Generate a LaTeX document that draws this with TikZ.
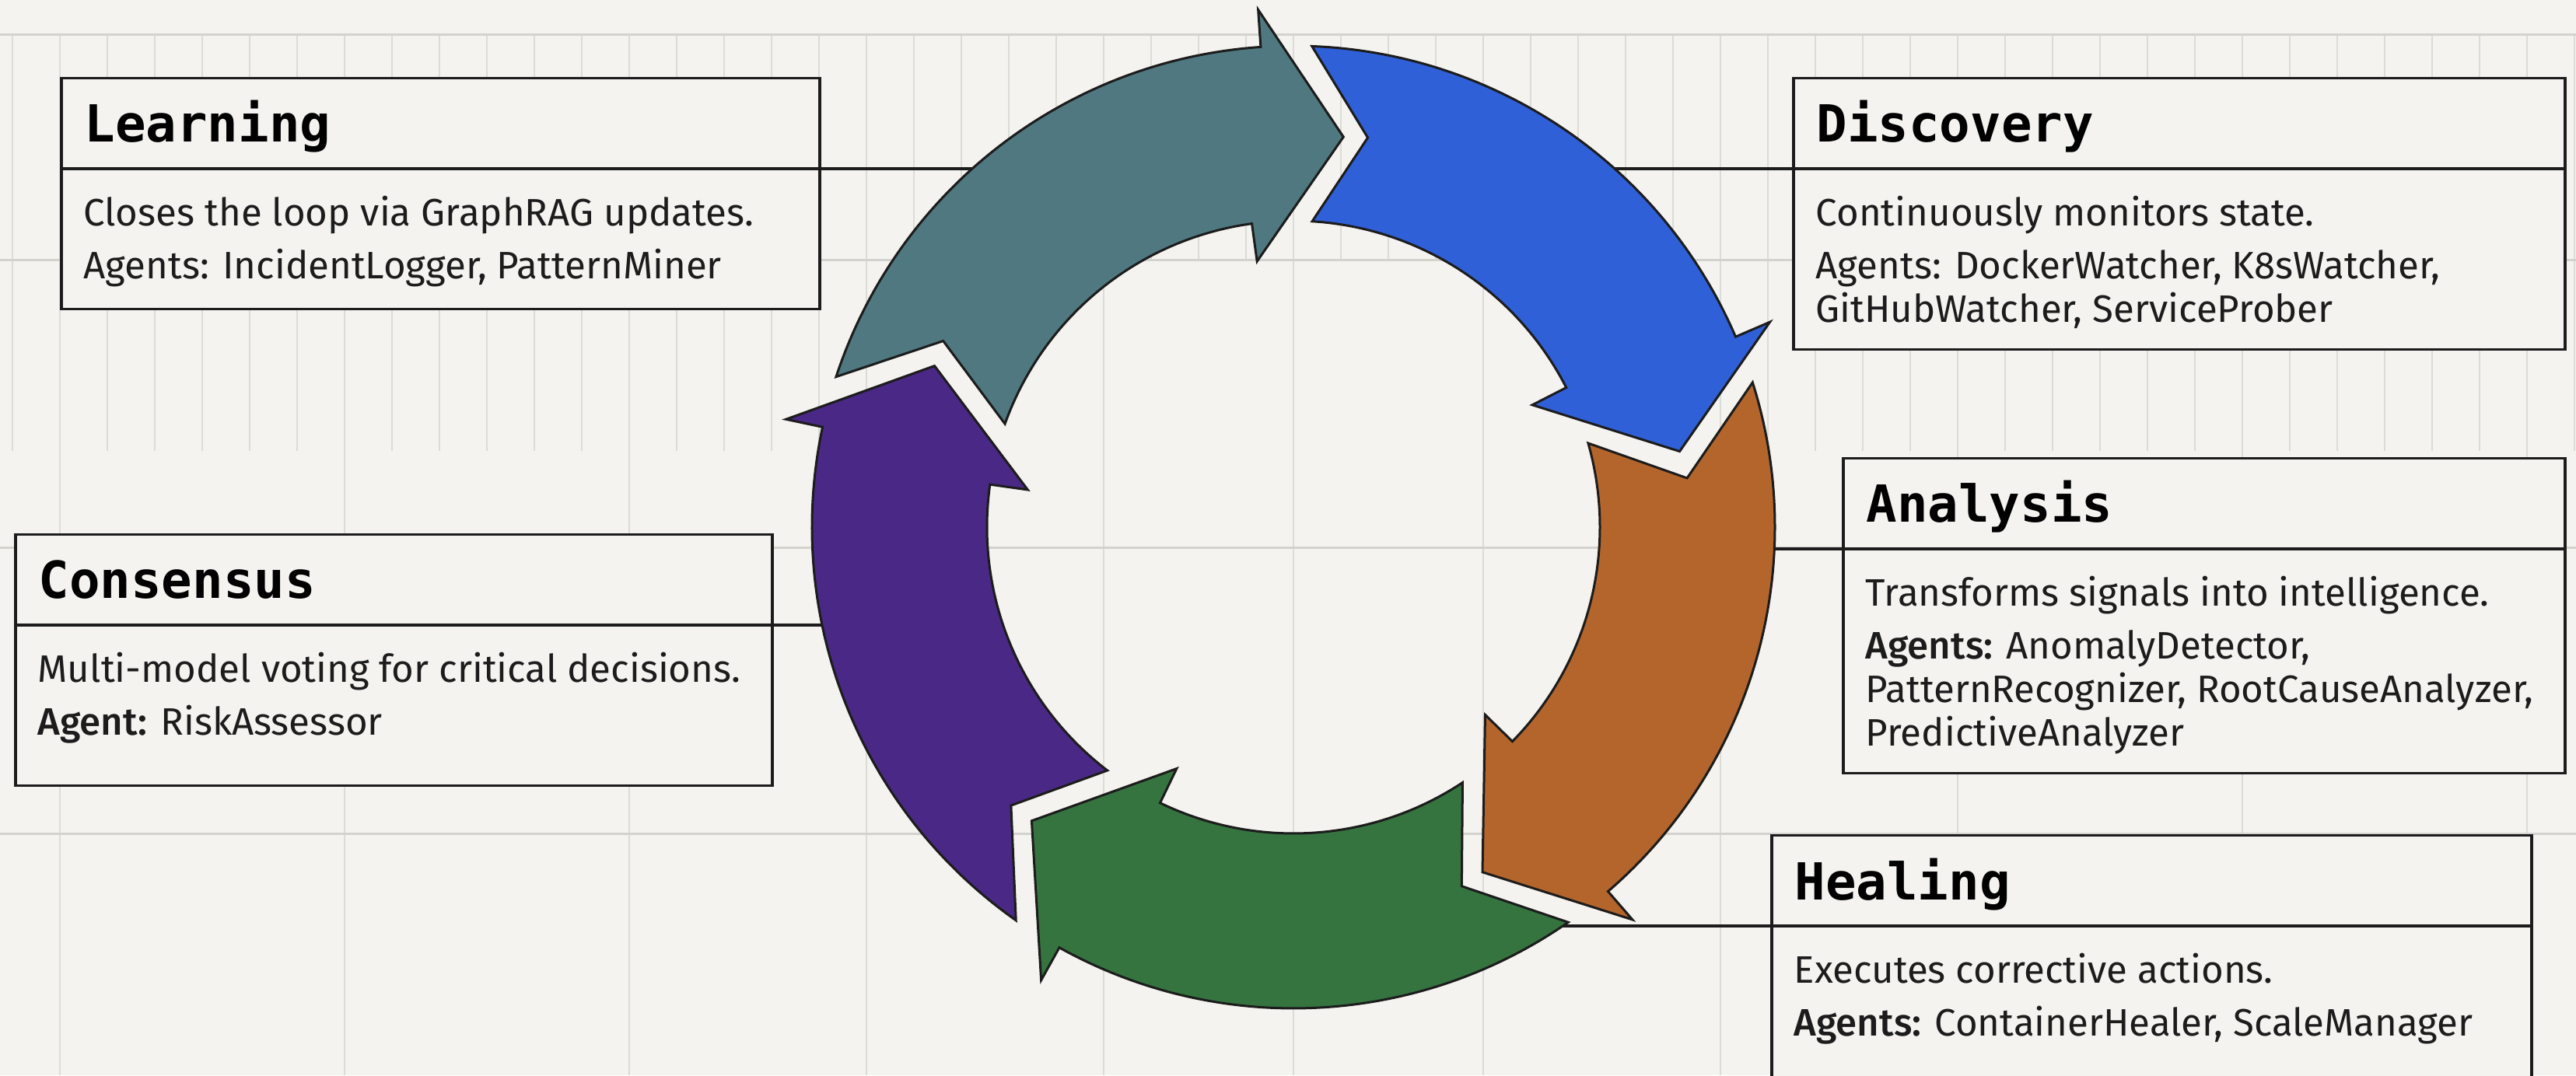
\documentclass[tikz,border=0pt]{standalone}
\usepackage{fontspec}
\usepackage{xcolor}
\usetikzlibrary{positioning,calc}
\setmainfont{Fira Sans}
\newfontfamily\headfont{DejaVu Sans Mono}
\newfontfamily\agentfont{Fira Sans Medium}

\definecolor{paper}{HTML}{F4F3EF}
\definecolor{gridfine}{HTML}{DCDCD7}
\definecolor{gridmajor}{HTML}{D3D3CE}
\definecolor{inkline}{HTML}{1C1C1C}
\definecolor{learncol}{HTML}{507880}
\definecolor{discocol}{HTML}{2F60D8}
\definecolor{analycol}{HTML}{B4652B}
\definecolor{healcol}{HTML}{35733F}
\definecolor{conscol}{HTML}{4A2886}

\begin{document}
\begin{tikzpicture}[x=1mm, y=1mm,
    panel/.style={draw=inkline, line width=0.35mm, fill=paper, anchor=north west, inner sep=0pt},
    rule/.style={draw=inkline, line width=0.35mm},
    headtext/.style={anchor=base west, inner sep=0pt, font=\headfont\bfseries\fontsize{18.7pt}{22pt}\selectfont},
    bodytext/.style={anchor=north west, inner sep=0pt, align=left, text=inkline, font=\fontsize{14pt}{15.93pt}\selectfont},
    stage/.style={draw=inkline, line width=0.3mm, line join=miter}]
    \useasboundingbox (0,0) rectangle (331.2,138.3);
    \clip (0,0) rectangle (331.2,138.3);
    \fill[paper] (0,0) rectangle (331.2,138.3);

    % Grid
    \foreach \k in {-27,...,27}
        \draw[gridfine, line width=0.2mm] ({166.3+6.1*\k},133.8) -- ({166.3+6.1*\k},104.8);
    \foreach \k in {-27,...,-10}
        \draw[gridfine, line width=0.2mm] ({166.3+6.1*\k},104.8) -- ({166.3+6.1*\k},80.3);
    \foreach \k in {10,...,27}
        \draw[gridfine, line width=0.2mm] ({166.3+6.1*\k},104.8) -- ({166.3+6.1*\k},80.3);
    \foreach \k in {-26,-20,-14,-9,-4,0,4,9,14,20,26}
        \draw[gridfine, line width=0.2mm] ({166.3+6.1*\k},104.8) -- ({166.3+6.1*\k},0);
    \foreach \y in {133.8,104.8,67.8,31.0}
        \draw[gridmajor, line width=0.3mm] (0,\y) -- (331.2,\y);

    % Ring anchors
    \coordinate (hub) at (166.3,70.5);
    \begin{scope}[shift={(hub)}]
        \coordinate (learnend) at (131.9:61.9);
        \coordinate (discoend) at (48.1:61.9);
        \coordinate (analyend) at (-2.6:61.9);
        \coordinate (consend) at (191.7:61.9);
        \coordinate (healend) at (-56:61.9);
    \end{scope}

    % Learning
    \node[panel, minimum width=97.5mm, minimum height=29.7mm] (learnbox) at (7.7,128.4) {};
    \draw[rule] ([yshift=-11.8mm]learnbox.north west) -- ([yshift=-11.8mm]learnbox.north east) coordinate (learnlink);
    \node[headtext] (learnhead) at ([xshift=3.1mm,yshift=-8.4mm]learnbox.north west) {Learning};
    \node[bodytext] (learnbody) at ([xshift=3mm,yshift=-14.1mm]learnbox.north west)
        {\rule{0pt}{5mm}Closes the loop via GraphRAG updates.\\[1.2mm]Agents: IncidentLogger, PatternMiner};
    \draw[rule] (learnlink) -- (learnlink -| learnend);

    % Discovery
    \node[panel, minimum width=99.2mm, minimum height=34.9mm] (discobox) at (230.4,128.4) {};
    \draw[rule] ([yshift=-11.8mm]discobox.north east) -- ([yshift=-11.8mm]discobox.north west) coordinate (discolink);
    \node[headtext] (discohead) at ([xshift=3.1mm,yshift=-8.4mm]discobox.north west) {Discovery};
    \node[bodytext] (discobody) at ([xshift=3mm,yshift=-14.1mm]discobox.north west)
        {\rule{0pt}{5mm}Continuously monitors state.\\[1.2mm]Agents: DockerWatcher, K8sWatcher,\\GitHubWatcher, ServiceProber};
    \draw[rule] (discolink) -- (discolink -| discoend);

    % Analysis
    \node[panel, minimum width=92.8mm, minimum height=40.5mm] (analybox) at (236.8,79.5) {};
    \draw[rule] ([yshift=-11.8mm]analybox.north east) -- ([yshift=-11.8mm]analybox.north west) coordinate (analylink);
    \node[headtext] (analyhead) at ([xshift=3.1mm,yshift=-8.4mm]analybox.north west) {Analysis};
    \node[bodytext] (analybody) at ([xshift=3mm,yshift=-14.1mm]analybox.north west)
        {\rule{0pt}{5mm}Transforms signals into intelligence.\\[1.2mm]{\agentfont Agents:} AnomalyDetector,\\PatternRecognizer, RootCauseAnalyzer,\\PredictiveAnalyzer};
    \draw[rule] (analylink) -- (analylink -| analyend);

    % Consensus
    \node[panel, minimum width=97.3mm, minimum height=32.3mm] (consbox) at (1.8,69.7) {};
    \draw[rule] ([yshift=-11.8mm]consbox.north west) -- ([yshift=-11.8mm]consbox.north east) coordinate (conslink);
    \node[headtext] (conshead) at ([xshift=3.1mm,yshift=-8.4mm]consbox.north west) {Consensus};
    \node[bodytext] (consbody) at ([xshift=3mm,yshift=-14.1mm]consbox.north west)
        {\rule{0pt}{5mm}Multi-model voting for critical decisions.\\[1.2mm]{\agentfont Agent:} RiskAssessor};
    \draw[rule] (conslink) -- (conslink -| consend);

    % Healing
    \node[panel, minimum width=97.7mm, minimum height=40mm] (healbox) at (227.6,31.0) {};
    \draw[rule] ([yshift=-11.8mm]healbox.north east) -- ([yshift=-11.8mm]healbox.north west) coordinate (heallink);
    \node[headtext] (healhead) at ([xshift=3.1mm,yshift=-8.4mm]healbox.north west) {Healing};
    \node[bodytext] (healbody) at ([xshift=3mm,yshift=-14.1mm]healbox.north west)
        {\rule{0pt}{5mm}Executes corrective actions.\\[1.2mm]{\agentfont Agents:} ContainerHealer, ScaleManager};
    \draw[rule] (heallink) -- (heallink -| healend);

    % Cycle arrows
    \begin{scope}[shift={(hub)}]
        \draw[stage, fill=discocol] (87.8:61.9) arc[start angle=87.8, end angle=23.3, radius=61.9]
            -- (23.3:66.7) -- (11.1:50.6) -- (27.1:34.5) -- (27.1:39.4)
            arc[start angle=27.1, end angle=86.5, radius=39.4] -- (79.2:51) -- cycle;
        \draw[stage, fill=analycol] (17.5:61.9) arc[start angle=17.5, end angle=-49.2, radius=61.9]
            -- (-49.2:66.7) -- (-61.3:50.6) -- (-44.4:34.5) -- (-44.4:39.4)
            arc[start angle=-44.4, end angle=15.9, radius=39.4] -- (7.1:51) -- cycle;
        \draw[stage, fill=healcol] (-55.2:61.9) arc[start angle=-55.2, end angle=-119.1, radius=61.9]
            -- (-119.1:66.7) -- (-131.7:50.6) -- (-115.8:34.5) -- (-115.8:39.4)
            arc[start angle=-115.8, end angle=-56.5, radius=39.4] -- (-64.9:51) -- cycle;
        \draw[stage, fill=conscol] (-125.2:61.9) arc[start angle=-125.2, end angle=-192, radius=61.9]
            -- (-192:66.7) -- (-204.2:50.6) -- (-188:34.5) -- (-188:39.4)
            arc[start angle=-188, end angle=-127.4, radius=39.4] -- (-135.4:51) -- cycle;
        \draw[stage, fill=learncol] (161.8:61.9) arc[start angle=161.8, end angle=93.9, radius=61.9]
            -- (93.9:66.7) -- (82.7:50.6) -- (97.8:34.5) -- (97.8:39.4)
            arc[start angle=97.8, end angle=160.3, radius=39.4] -- (152:51) -- cycle;
    \end{scope}
\end{tikzpicture}
\end{document}
